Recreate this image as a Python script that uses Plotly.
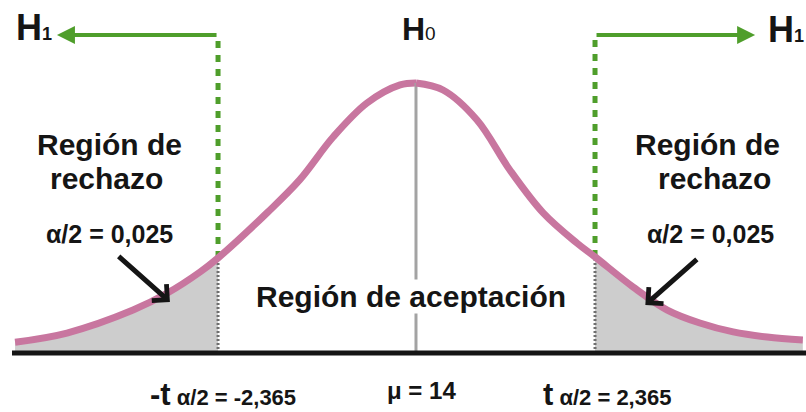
import plotly.graph_objects as go

# Bell curve (height relative to the peak) sampled along the t axis,
# left half and right half
left_t = [-4.79, -4.17, -3.38, -2.97, -2.58, -2.365, -1.78, -1.39, -0.99, -0.585, -0.19, 0.0]
left_h = [0.040, 0.074, 0.159, 0.222, 0.300, 0.352, 0.519, 0.641, 0.800, 0.926, 0.993, 1.0]
right_t = [0.0, 0.357, 0.806, 1.24, 1.68, 2.127, 2.365, 2.87, 3.32, 3.75, 4.19, 4.64, 5.11]
right_h = [1.0, 0.974, 0.863, 0.678, 0.519, 0.407, 0.356, 0.244, 0.159, 0.111, 0.078, 0.059, 0.048]

t_crit = 2.365          # critical value t(alpha/2)
alpha_half = "0,025"    # alpha / 2
mu = 14                 # population mean under H0

reject_lines = ["Región de", "rechazo"]
accept_label = "Región de aceptación"

PINK = "#c8769f"
GREEN = "#4f9e2b"
SHADE = "#cdcdcd"
INK = "#151515"
FONT = "Liberation Sans, Arial, sans-serif"

W, H = 806, 412
TOP_Y = 1.178   # height of the H1 arrows, in curve units


def paper(px, py):
    return px / W, 1 - py / H


i_left = left_t.index(-t_crit)
i_right = right_t.index(t_crit)
h_left = left_h[i_left]
h_right = right_h[i_right]

fig = go.Figure()

# shaded rejection tails
fig.add_trace(go.Scatter(x=left_t[:i_left + 1], y=left_h[:i_left + 1], mode="lines",
                         line=dict(color="rgba(0,0,0,0)", width=0, shape="spline"),
                         fill="tozeroy", fillcolor=SHADE, xaxis="x", yaxis="y"))
fig.add_trace(go.Scatter(x=right_t[i_right:], y=right_h[i_right:], mode="lines",
                         line=dict(color="rgba(0,0,0,0)", width=0, shape="spline"),
                         fill="tozeroy", fillcolor=SHADE, xaxis="x2", yaxis="y"))

# dotted boundaries under the curve
fig.add_trace(go.Scatter(x=[-t_crit, -t_crit], y=[0, h_left], mode="lines",
                         line=dict(color="#6f6f6f", width=3, dash="2px,2px"),
                         xaxis="x", yaxis="y"))
fig.add_trace(go.Scatter(x=[t_crit, t_crit], y=[0, h_right], mode="lines",
                         line=dict(color="#6f6f6f", width=3, dash="2px,2px"),
                         xaxis="x2", yaxis="y"))

# green dashed boundaries above the curve
fig.add_trace(go.Scatter(x=[-t_crit, -t_crit], y=[h_left, TOP_Y], mode="lines",
                         line=dict(color=GREEN, width=5, dash="7px,7px"),
                         xaxis="x", yaxis="y"))
fig.add_trace(go.Scatter(x=[t_crit, t_crit], y=[h_right, TOP_Y], mode="lines",
                         line=dict(color=GREEN, width=5, dash="7px,7px"),
                         xaxis="x2", yaxis="y"))

# mean line
fig.add_trace(go.Scatter(x=[0, 0], y=[0, 1.0], mode="lines",
                         line=dict(color="#a3a3a3", width=3),
                         xaxis="x2", yaxis="y"))

# the curve itself
fig.add_trace(go.Scatter(x=left_t, y=left_h, mode="lines",
                         line=dict(color=PINK, width=7, shape="spline"),
                         xaxis="x", yaxis="y"))
fig.add_trace(go.Scatter(x=right_t, y=right_h, mode="lines",
                         line=dict(color=PINK, width=7, shape="spline"),
                         xaxis="x2", yaxis="y"))

# baseline
fig.add_shape(type="line", xref="paper", yref="y", x0=12 / W, x1=1, y0=0, y1=0,
              line=dict(color=INK, width=5), layer="above")

ann = []

# H1 arrows
ann.append(dict(x=-4.29, y=TOP_Y, ax=-t_crit, ay=TOP_Y, xref="x", yref="y",
                axref="x", ayref="y", showarrow=True, arrowhead=2, arrowsize=0.9,
                arrowwidth=4, arrowcolor=GREEN, text="", standoff=0, startstandoff=0))
ann.append(dict(x=4.48, y=TOP_Y, ax=t_crit, ay=TOP_Y, xref="x2", yref="y",
                axref="x2", ayref="y", showarrow=True, arrowhead=2, arrowsize=0.9,
                arrowwidth=4, arrowcolor=GREEN, text="", standoff=0, startstandoff=0))

# black arrows pointing into the tails
ann.append(dict(x=-2.94, y=0.189, ax=-3.57, ay=0.363, xref="x", yref="y",
                axref="x", ayref="y", showarrow=True, arrowhead=4, arrowsize=0.85,
                arrowwidth=5, arrowcolor=INK, text="", standoff=0))
ann.append(dict(x=3.03, y=0.178, ax=3.73, ay=0.352, xref="x2", yref="y",
                axref="x2", ayref="y", showarrow=True, arrowhead=4, arrowsize=0.85,
                arrowwidth=5, arrowcolor=INK, text="", standoff=0))


def label(text, px, py, size, anchor="center", **kw):
    x, y = paper(px, py)
    d = dict(text=text, x=x, y=y, xref="paper", yref="paper", showarrow=False,
             xanchor=anchor, yanchor="middle",
             font=dict(family=FONT, size=size, color=INK))
    d.update(kw)
    ann.append(d)


label("<b>H<span style='font-size:18px'>1</span></b>", 14, 27.5, 36, anchor="left")
label("<b>H<span style='font-size:18px'>1</span></b>", 766, 30, 36, anchor="left")
label("<b>H</b><span style='font-size:19px'>0</span>", 419, 29, 32)

for cx in (109, 707):
    label(f"<b>{reject_lines[0]}</b>", cx, 145, 30)
for cx in (106, 714):
    label(f"<b>{reject_lines[1]}</b>", cx, 179, 30)
for cx in (109, 710):
    label(f"<b>α/2 = {alpha_half}</b>", cx, 234, 25)

label(f"<b>{accept_label}</b>", 411, 296, 30, bgcolor="white", borderpad=0)

crit_txt = f"{t_crit:.3f}".replace(".", ",")
label(f"<b>-t<span style='font-size:22px'> α/2 = -{crit_txt}</span></b>", 148, 394, 31,
      anchor="left")
label(f"<b>μ = {mu}</b>", 421, 390, 24)
label(f"<b>t<span style='font-size:22px'> α/2 = {crit_txt}</span></b>", 541, 394, 31,
      anchor="left")

fig.update_layout(
    width=W, height=H, autosize=False,
    margin=dict(l=0, r=0, t=0, b=0),
    paper_bgcolor="white", plot_bgcolor="rgba(0,0,0,0)",
    showlegend=False,
    xaxis=dict(domain=[0, 0.54], range=[-4.97, 0.23], visible=False, anchor="y"),
    xaxis2=dict(domain=[0.49, 1], range=[-0.278, 5.152], visible=False, anchor="y"),
    yaxis=dict(domain=[0, 1], range=[-0.2185, 1.3074], visible=False, anchor="x"),
    annotations=ann,
)

fig.write_html("out.html")
